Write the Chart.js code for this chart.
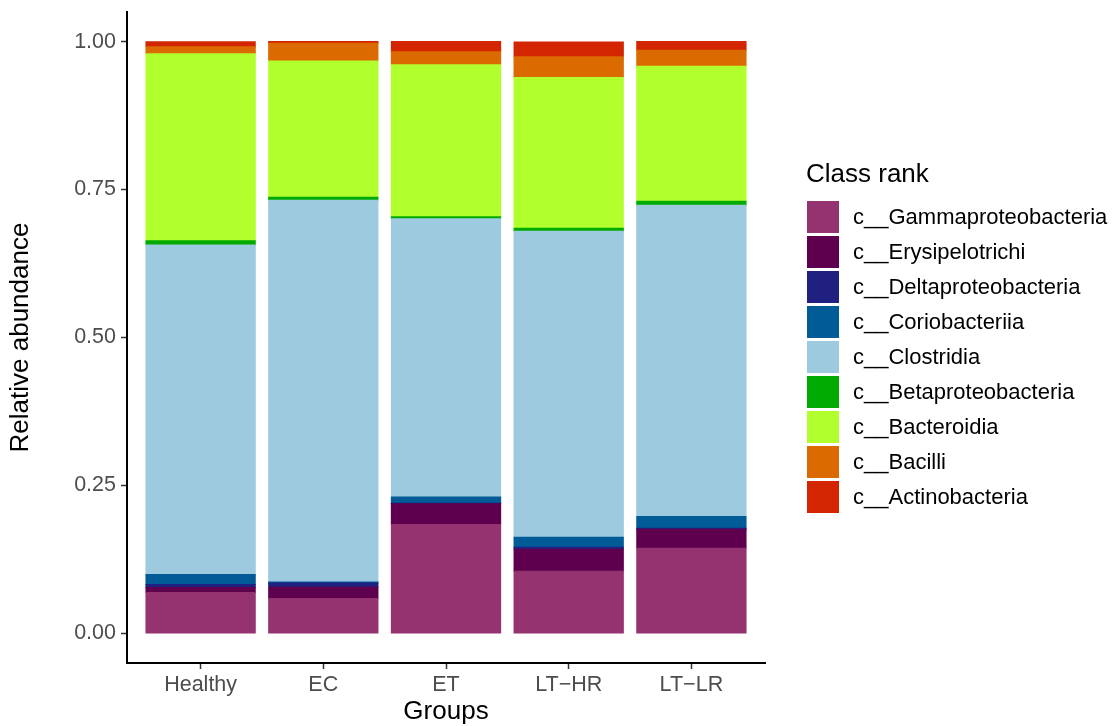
<!DOCTYPE html>
<html>
<head>
<meta charset="utf-8">
<script src="https://cdn.jsdelivr.net/npm/chart.js@4/dist/chart.umd.min.js"></script>
<style>
  html, body { margin: 0; padding: 0; background: #ffffff; }
  #wrap { width: 1112px; height: 726px; }
</style>
</head>
<body>
<div id="wrap"><canvas id="c" width="1112" height="726"></canvas></div>
<script>
// Groups on the x axis
const groups = ['Healthy', 'EC', 'ET', 'LT\u2212HR', 'LT\u2212LR'];

// Relative abundance of each class per group (stacked bottom to top)
const gammaproteobacteria = [0.069, 0.059, 0.184, 0.105, 0.144];
const erysipelotrichi     = [0.0085, 0.019, 0.035, 0.037, 0.032];
const deltaproteobacteria = [0.005, 0.007, 0.001, 0.0035, 0.0015];
const coriobacteriia      = [0.017, 0.002, 0.0105, 0.017, 0.020];
const clostridia          = [0.557, 0.645, 0.470, 0.517, 0.526];
const betaproteobacteria  = [0.0068, 0.005, 0.0035, 0.005, 0.0068];
const bacteroidia         = [0.316, 0.230, 0.257, 0.255, 0.228];
const bacilli             = [0.012, 0.030, 0.022, 0.035, 0.027];
const actinobacteria      = [0.0085, 0.003, 0.017, 0.025, 0.015];

// Tick values on the y axis
const yTicks = [0, 0.25, 0.5, 0.75, 1.0];

const classNames = [
  'c__Gammaproteobacteria', 'c__Erysipelotrichi', 'c__Deltaproteobacteria',
  'c__Coriobacteriia', 'c__Clostridia', 'c__Betaproteobacteria',
  'c__Bacteroidia', 'c__Bacilli', 'c__Actinobacteria'
];
const classValues = [
  gammaproteobacteria, erysipelotrichi, deltaproteobacteria,
  coriobacteriia, clostridia, betaproteobacteria,
  bacteroidia, bacilli, actinobacteria
];
const classColors = [
  '#94336F', '#5F004E', '#1F2080', '#005B96', '#9ECAE0',
  '#00AA00', '#B2FF2E', '#DB6A00', '#D32600'
];

const FONT = '"Liberation Sans", Arial, Helvetica, sans-serif';

const datasets = classNames.map((name, k) => ({
  label: name,
  data: groups.map((g, i) => ({ x: i + 1, y: classValues[k][i] })),
  backgroundColor: classColors[k],
  borderWidth: 0,
  inflateAmount: 0.5,
  categoryPercentage: 0.9,
  barPercentage: 0.99
}));

// Legend drawn to the right of the panel
const sideLegend = {
  id: 'sideLegend',
  afterDraw(chart) {
    const ctx = chart.ctx;
    ctx.save();
    ctx.textBaseline = 'middle';
    ctx.textAlign = 'left';
    ctx.fillStyle = '#000000';
    ctx.font = '26px ' + FONT;
    ctx.fillText('Class rank', 806, 175);
    ctx.font = '22px ' + FONT;
    chart.data.datasets.forEach((ds, i) => {
      const top = 201 + i * 35;
      ctx.fillStyle = ds.backgroundColor;
      ctx.fillRect(807, top, 32, 32);
      ctx.fillStyle = '#000000';
      ctx.fillText(ds.label, 853, top + 16.5);
    });
    ctx.restore();
  }
};

new Chart(document.getElementById('c'), {
  type: 'bar',
  data: { datasets },
  plugins: [sideLegend],
  options: {
    responsive: false,
    animation: false,
    devicePixelRatio: 1,
    layout: { padding: { top: 12, right: 347, left: 0, bottom: 0 } },
    plugins: {
      legend: { display: false },
      tooltip: { enabled: false }
    },
    scales: {
      x: {
        type: 'linear',
        stacked: true,
        min: 0.4,
        max: 5.6,
        offset: false,
        afterBuildTicks(scale) {
          scale.ticks = groups.map((g, i) => ({ value: i + 1 }));
        },
        afterFit(scale) {
          scale.height = 63;
          scale.paddingLeft = 0;
          scale.paddingRight = 0;
        },
        grid: {
          display: true,
          offset: false,
          drawOnChartArea: false,
          drawTicks: true,
          tickLength: 6,
          tickWidth: 1.5,
          tickColor: '#333333',
          color: '#333333'
        },
        border: { display: true, color: '#000000', width: 2 },
        ticks: {
          autoSkip: false,
          maxRotation: 0,
          padding: 3,
          color: '#4D4D4D',
          font: { family: FONT, size: 21.5 },
          callback: (v) => groups[Math.round(v) - 1]
        },
        title: {
          display: true,
          text: 'Groups',
          color: '#000000',
          font: { family: FONT, size: 26 },
          padding: { top: 0, bottom: -1 }
        }
      },
      y: {
        stacked: true,
        min: -0.05,
        max: 1.05,
        afterBuildTicks(scale) {
          scale.ticks = yTicks.map(v => ({ value: v }));
        },
        afterFit(scale) {
          scale.width = 127;
          scale.paddingTop = 0;
          scale.paddingBottom = 0;
        },
        grid: {
          display: true,
          drawOnChartArea: false,
          drawTicks: true,
          tickLength: 6,
          tickWidth: 1.5,
          tickColor: '#333333',
          color: '#333333'
        },
        border: { display: true, color: '#000000', width: 2 },
        ticks: {
          padding: 5,
          color: '#4D4D4D',
          font: { family: FONT, size: 21.5 },
          callback: (v) => Number(v).toFixed(2)
        },
        title: {
          display: true,
          text: 'Relative abundance',
          color: '#000000',
          font: { family: FONT, size: 26 },
          padding: { top: 5, bottom: 0 }
        }
      }
    }
  }
});
</script>
</body>
</html>
